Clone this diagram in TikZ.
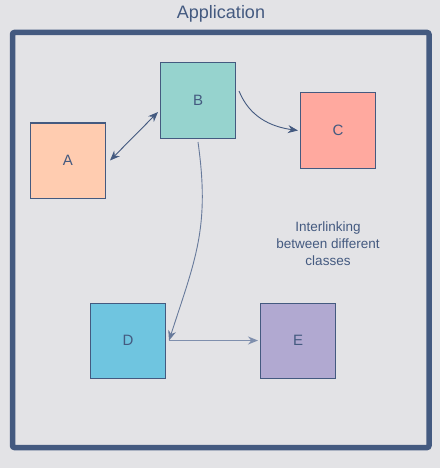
\documentclass[tikz,border=0pt]{standalone}
\usepackage{fontspec}
\setmainfont{Liberation Sans}
\usetikzlibrary{arrows.meta}
\definecolor{bg}{HTML}{E3E3E6}
\definecolor{ink}{HTML}{445A80}
\definecolor{cA}{HTML}{FFCCB0}
\definecolor{cB}{HTML}{96D3CE}
\definecolor{cC}{HTML}{FFA99F}
\definecolor{cD}{HTML}{6FC5E0}
\definecolor{cE}{HTML}{B1A9D1}
\definecolor{inklight}{HTML}{7F8FAD}
\tikzset{
  cls/.style={draw=ink, line width=1pt, minimum width=75pt, minimum height=75pt,
    inner sep=0pt, text=ink, font=\fontsize{15}{18}\selectfont},
  conn/.style={draw=ink, line width=0.9pt, -{Stealth[length=10pt,width=8pt]}},
}
\begin{document}
\begin{tikzpicture}[x=1pt,y=-1pt]
  \fill[bg] (0,0) rectangle (440,468);
  \useasboundingbox (0,0) rectangle (440,468);
  \node[text=ink, font=\fontsize{18}{22}\selectfont] (title) at (221,13.5) {Application};
  \draw[ink, line width=5.5pt, rounded corners=2pt] (12.5,32.5) rectangle (429,447.5);
  \node[cls, fill=cA] (A) at (68,160.5) {A};
  \node[cls, fill=cB] (B) at (198,100.5) {B};
  \node[cls, fill=cC] (C) at (338,130.5) {C};
  \node[cls, fill=cD] (D) at (128,340.5) {D};
  \node[cls, fill=cE] (E) at (298,340.5) {E};
  \node[text=ink, align=center, font=\fontsize{13.5}{17.3}\selectfont] (note) at (328,243.5)
    {Interlinking\\between different\\classes};
  \draw[conn, {Stealth[length=10pt,width=8pt]}-{Stealth[length=10pt,width=8pt]}]
    ([xshift=4pt]A.east) -- ([xshift=-2pt,yshift=-11.5pt]B.west);
  \draw[conn] ([xshift=3pt,yshift=9.5pt]B.east) to[out=-68,in=172] ([xshift=-2pt]C.west);
  \draw[conn, draw=inklight!60!ink] ([yshift=-3.5pt]B.south) to[out=-82,in=72,looseness=1.1] ([xshift=3pt]D.east);
  \draw[conn, draw=inklight, line width=1.3pt] ([xshift=3pt]D.east) -- ([xshift=-2pt]E.west);
\end{tikzpicture}
\end{document}
